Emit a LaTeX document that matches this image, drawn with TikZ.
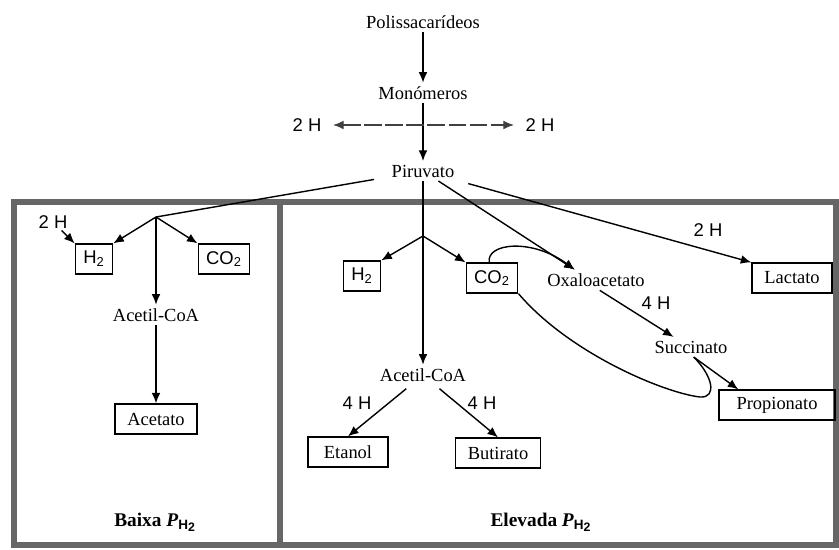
\documentclass[tikz,border=0pt]{standalone}
\usepackage{fontspec}
\setmainfont{Liberation Serif}
\setsansfont{Liberation Sans}
\usetikzlibrary{arrows.meta}
\tikzset{
  met/.style={font=\fontsize{10.5}{12}\selectfont, inner sep=2pt},
  prod/.style={met, draw, line width=0.8pt, minimum height=17pt, inner xsep=7pt},
  hlab/.style={font=\sffamily\fontsize{10.5}{12}\selectfont, inner sep=1pt},
  hbox/.style={hlab, draw, line width=0.8pt, minimum height=17pt, inner xsep=4.5pt},
  conn/.style={line width=0.8pt},
  arr/.style={conn, -{Latex[length=6pt,width=5pt]}},
  frame/.style={line width=3pt, draw=black!60},
  cond/.style={font=\bfseries\fontsize{11}{13}\selectfont},
}
\newcommand{\pHtwo}{\textit{P}\textsubscript{\sffamily H\raisebox{-0.25ex}{\scriptsize 2}}}

\begin{document}
\begin{tikzpicture}[x=0.02cm, y=-0.02cm]
		\useasboundingbox (0,0) rectangle (839,549);
		%%%%% FRAME %%%%%
		\draw[frame] (14,202) rectangle (836,545);
		\draw[frame] (280,202) -- (280,545);
		
		%%%%% TOP %%%%%
		\node[met] (poli) at (423,22) {Polissacarídeos};
		\node[met] (mono) at (423,93) {Monómeros};
		\node[met] (piru) at (423,171) {Piruvato};
		\node[hlab] (hl) at (307,125) {2 H};
		\node[hlab] (hr) at (540,125) {2 H};
		\draw[arr] (poli) -- (mono);
		\draw[arr] (mono) -- (piru);
		\draw[conn, line width=0.6pt, black!75, dash pattern=on 10pt off 2pt,
		  {Latex[length=6pt,width=5pt]}-{Latex[length=6pt,width=5pt]},
		  shorten <=5.5pt, shorten >=5.5pt] (hl) -- (hr);
		
		%%%%% BAIXA %%%%%
		\coordinate (bl) at (156,217);
		\node[hlab] (hha2) at (53,222) {2 H};
		\node[hbox] (hha) at (94,259) {H\textsubscript{2}};
		\node[hbox] (cca) at (224,259) {CO\textsubscript{2}};
		\node[met] (acea) at (156,315) {Acetil-CoA};
		\node[prod] (acet) at (156,419) {Acetato};
		\node[cond] (baixa) at (155,522) {Baixa \pHtwo};
		
		\draw[conn, shorten <=8pt] (piru) -- (bl);
		\draw[arr] (bl) -- (hha.north east);
		\draw[arr] (bl) -- (cca.north west);
		\draw[arr] (bl) -- (acea);
		\draw[arr] (hha2) -- (hha.north west);
		\draw[arr] (acea) -- (acet);
		
		%%%%% ELEVADA %%%%%
		\coordinate (br) at (423,236);
		\node[hbox] (hhb) at (362,276) {H\textsubscript{2}};
		\node[hbox] (ccb) at (492,278) {CO\textsubscript{2}};
		\node[met] (oxa) at (596,280) {Oxaloacetato};
		\node[prod] (lac) at (792,278) {Lactato};
		\node[hlab] (hlac) at (708,230) {2 H};
		\node[hlab] (hsuc) at (656,303) {4 H};
		\node[met] (succ) at (691,347) {Succinato};
		\node[prod, inner xsep=10pt] (prop) at (777,405) {Propionato};
		\node[met] (aceb) at (423,375) {Acetil-CoA};
		\node[hlab] (het) at (357,403) {4 H};
		\node[hlab] (hbu) at (482,403) {4 H};
		\node[prod, inner xsep=9pt] (etan) at (348,452) {Etanol};
		\node[prod] (buti) at (498,453) {Butirato};
		\node[cond] (elev) at (541,522) {Elevada \pHtwo};
		
		\draw[arr] (piru) -- (aceb);
		\draw[arr] (br) -- (hhb.north east);
		\draw[arr] (br) -- (ccb.north west);
		\draw[arr] (piru) -- (oxa.154);
		\draw[arr, shorten <=6pt] (piru) -- (lac.north west);
		\draw[arr] (ccb.100) .. controls (486,243) and (532,238) .. (oxa.154);
		\draw[arr] (oxa.290) -- (succ.150);
		\draw[arr] (succ.285) -- (prop.158);
		\draw[conn] (succ.285) .. controls (712,375) and (718,398) .. (700,397)
		  .. controls (665,393) and (570,354) .. (ccb.south east);
		\draw[arr, shorten <=3pt] (aceb) -- (etan.north);
		\draw[arr, shorten <=3pt] (aceb) -- (buti.north);
		%%%%% END %%%%%
\end{tikzpicture}
\end{document}
